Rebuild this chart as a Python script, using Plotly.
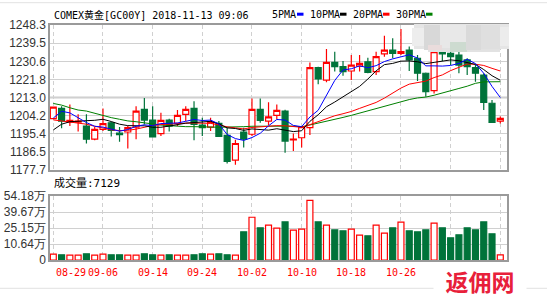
import plotly.graph_objects as go

# ---------------- data ----------------
dates = ['08-29', '08-30', '08-31', '09-03', '09-04', '09-05', '09-06', '09-07', '09-10', '09-11',
         '09-12', '09-13', '09-14', '09-17', '09-18', '09-19', '09-20', '09-21', '09-24', '09-25',
         '09-26', '09-27', '09-28', '10-01', '10-02', '10-03', '10-04', '10-05', '10-08', '10-09',
         '10-10', '10-11', '10-12', '10-15', '10-16', '10-17', '10-18', '10-19', '10-22', '10-23',
         '10-24', '10-25', '10-26', '10-29', '10-30', '10-31', '11-01', '11-02', '11-05', '11-06',
         '11-07', '11-08', '11-09', '11-12', '11-13']

opens = [1202.7, 1207.7, 1201.1, 1201.0, 1199.1, 1192.7, 1197.5, 1200.7, 1195.7, 1196.2,
         1198.6, 1207.2, 1202.0, 1195.4, 1202.0, 1200.4, 1204.8, 1207.7, 1199.6, 1198.6,
         1200.4, 1194.6, 1182.5, 1196.2, 1195.1, 1207.2, 1201.5, 1204.3, 1206.4, 1192.3,
         1193.4, 1198.3, 1227.5, 1221.5, 1230.1, 1228.0, 1225.9, 1228.3, 1230.4, 1225.6,
         1234.2, 1236.1, 1234.5, 1236.1, 1232.1, 1224.8, 1216.3, 1235.3, 1234.5, 1233.7,
         1231.3, 1227.5, 1223.9, 1210.2, 1201.5]
highs = [1208.6, 1208.8, 1209.6, 1204.8, 1204.8, 1198.6, 1207.7, 1201.2, 1198.6, 1199.1,
         1208.8, 1212.8, 1208.8, 1205.6, 1202.7, 1206.9, 1208.8, 1211.2, 1203.2, 1203.2,
         1201.5, 1198.3, 1192.4, 1198.3, 1212.5, 1212.5, 1210.7, 1209.6, 1207.0, 1195.5,
         1198.8, 1230.1, 1228.0, 1236.6, 1235.3, 1230.8, 1233.7, 1233.7, 1232.4, 1235.3,
         1243.1, 1241.8, 1246.4, 1237.8, 1233.7, 1225.2, 1236.1, 1241.8, 1236.9, 1236.1,
         1232.1, 1228.8, 1224.8, 1211.8, 1203.7]
lows = [1202.4, 1198.0, 1199.1, 1196.4, 1190.6, 1192.2, 1196.7, 1194.0, 1191.5, 1188.2,
        1192.7, 1199.9, 1193.5, 1194.3, 1196.4, 1199.1, 1201.5, 1192.2, 1194.3, 1196.7,
        1193.8, 1180.9, 1180.3, 1188.6, 1194.3, 1200.7, 1199.6, 1202.4, 1186.1, 1186.9,
        1188.7, 1194.7, 1219.4, 1220.4, 1225.6, 1223.6, 1221.5, 1225.6, 1224.8, 1223.9,
        1232.9, 1232.1, 1233.7, 1225.9, 1221.0, 1213.4, 1215.0, 1230.8, 1228.8, 1224.8,
        1223.9, 1220.7, 1206.9, 1200.9, 1200.4]
closes = [1208.3, 1201.5, 1201.9, 1201.5, 1192.7, 1197.5, 1200.3, 1197.0, 1194.9, 1198.3,
          1206.4, 1202.0, 1193.8, 1201.9, 1199.1, 1204.3, 1207.2, 1199.9, 1198.3, 1201.1,
          1194.0, 1181.9, 1190.6, 1192.7, 1207.2, 1201.9, 1203.6, 1206.7, 1191.8, 1192.8,
          1198.8, 1227.5, 1222.0, 1230.1, 1228.0, 1225.6, 1228.8, 1229.6, 1225.2, 1232.9,
          1236.1, 1234.5, 1235.3, 1231.3, 1224.8, 1215.8, 1235.3, 1234.2, 1232.9, 1228.8,
          1228.0, 1224.8, 1210.6, 1200.9, 1202.8]

# volume in 万 (10k contracts)
volumes = [1.5, 0.9, 0.6, 0.6, 1.8, 0.6, 1.5, 0.9, 0.9, 0.6,
           0.6, 1.8, 0.9, 0.6, 0.9, 0.6, 0.6, 0.9, 1.8, 1.5,
           1.8, 0.9, 0.6, 21.7, 34.9, 25.3, 27.7, 25.0, 30.7, 23.2,
           24.1, 50.3, 30.7, 27.7, 23.5, 22.6, 24.1, 18.7, 18.1, 27.7,
           20.5, 25.3, 30.4, 22.6, 21.7, 23.5, 29.5, 25.3, 16.3, 19.0,
           25.3, 23.5, 30.7, 19.9, 0.71]

ma5 = [1203.0, 1206.3, 1205.5, 1203.0, 1200.8, 1199.0, 1198.6, 1197.6, 1196.6, 1197.4,
       1199.0, 1199.7, 1199.3, 1200.3, 1200.5, 1200.6, 1201.4, 1202.3, 1201.8, 1202.0,
       1200.1, 1195.0, 1193.0, 1192.1, 1193.5, 1195.6, 1199.2, 1202.3, 1202.0, 1199.4,
       1198.8, 1203.5, 1206.8, 1214.2, 1221.3, 1226.4, 1227.0, 1228.4, 1227.5, 1228.5,
       1230.5, 1231.8, 1232.9, 1233.8, 1232.2, 1228.4, 1228.4, 1228.3, 1228.6, 1229.6,
       1231.6, 1229.5, 1224.8, 1218.4, 1213.0]
ma10 = [1197.2, 1200.0, 1201.2, 1201.6, 1201.7, 1201.9, 1202.4, 1201.3, 1200.0, 1199.3,
        1199.2, 1199.2, 1198.5, 1198.5, 1199.1, 1199.8, 1200.5, 1200.8, 1201.1, 1201.4,
        1200.2, 1198.2, 1197.9, 1197.0, 1197.7, 1197.5, 1197.1, 1197.8, 1197.2, 1196.4,
        1196.8, 1201.4, 1204.6, 1208.5, 1210.8, 1213.2, 1215.8, 1218.4, 1222.0, 1226.0,
        1229.0, 1229.6, 1230.7, 1230.8, 1230.4, 1229.5, 1230.1, 1230.6, 1231.3, 1230.9,
        1230.1, 1229.1, 1226.6, 1223.6, 1221.4]
ma20 = [1202.1, 1201.6, 1201.2, 1200.8, 1200.0, 1199.0, 1198.0, 1197.3, 1196.9, 1197.0,
        1197.6, 1198.6, 1199.4, 1199.8, 1200.1, 1200.3, 1200.5, 1200.6, 1200.5, 1200.4,
        1199.7, 1198.7, 1198.2, 1197.7, 1198.4, 1198.7, 1198.8, 1199.3, 1199.2, 1198.9,
        1198.5, 1199.8, 1201.2, 1202.6, 1204.1, 1205.1, 1206.2, 1207.7, 1209.0, 1210.6,
        1212.7, 1215.3, 1217.6, 1219.5, 1220.4, 1221.0, 1222.7, 1224.0, 1226.1, 1227.9,
        1229.3, 1229.2, 1228.6, 1227.2, 1225.9]
ma30 = [1210.1, 1209.3, 1208.0, 1206.9, 1206.4, 1205.3, 1204.1, 1203.2, 1202.4, 1201.6,
        1201.2, 1200.7, 1199.9, 1199.6, 1199.3, 1199.0, 1198.8, 1198.8, 1198.6, 1198.6,
        1198.5, 1198.6, 1198.6, 1198.8, 1199.0, 1199.0, 1199.2, 1199.3, 1199.2, 1199.05,
        1198.7, 1199.6, 1200.3, 1201.2, 1202.4, 1203.3, 1204.3, 1205.4, 1206.4, 1207.5,
        1208.5, 1209.6, 1211.0, 1212.0, 1212.8, 1213.2, 1214.1, 1215.3, 1216.4, 1217.4,
        1218.5, 1219.9, 1220.6, 1220.8, 1220.7]

price_ticks = [1177.7, 1186.5, 1195.4, 1204.2, 1213.0, 1221.8, 1230.6, 1239.5, 1248.3]
price_tick_text = ['1177.7', '1186.5', '1195.4', '1204.2', '1213.0', '1221.8', '1230.6', '1239.5', '1248.3']
vol_floor = -3.87          # bottom of volume panel (labelled "0")
vol_ticks = [vol_floor, 10.64, 25.15, 39.67, 54.18]
vol_tick_text = ['0', '10.64万', '25.15万', '39.67万', '54.18万']
date_ticks = ['08-29', '09-06', '09-14', '09-24', '10-02', '10-10', '10-18', '10-26', '11-05', '11-13']

title_text = 'COMEX黄金[GC00Y] 2018-11-13 09:06'
volume_label = '成交量:7129'
ma_names = ['5PMA', '10PMA', '20PMA', '30PMA']
watermark = '返佣网'

# ---------------- styles / geometry ----------------
RED = '#ff0000'
GREEN = '#00733a'
MA_COLORS = ['#0000ff', '#000000', '#ff0000', '#008000']
BORDER = '#9a9a9a'
GRID = '#d0d0d0'
MONO = 'DejaVu Sans Mono, Noto Sans CJK SC, monospace'
SANS = 'Liberation Sans, Arial, sans-serif'

W, H = 547, 302
ML, MR, MT, MB = 50, 40, 25, 42
PW, PH = W - ML - MR, H - MT - MB


def px(x):
    return (x - ML) / PW


def py(y):
    return (H - MB - y) / PH


fig = go.Figure()

fig.add_trace(go.Candlestick(
    x=dates, open=opens, high=highs, low=lows, close=closes,
    increasing=dict(line=dict(color=RED, width=1.2), fillcolor='white'),
    decreasing=dict(line=dict(color=GREEN, width=1.2), fillcolor=GREEN),
    whiskerwidth=0, xaxis='x', yaxis='y', hoverinfo='skip', showlegend=False))

for vals, col in zip([ma30, ma20, ma10, ma5], MA_COLORS[::-1]):
    fig.add_trace(go.Scatter(x=dates, y=vals, mode='lines', line=dict(color=col, width=1),
                             xaxis='x', yaxis='y', hoverinfo='skip', showlegend=False))

up = [c >= o for o, c in zip(opens, closes)]
fig.add_trace(go.Bar(
    x=dates, y=[v - vol_floor for v in volumes], base=vol_floor, width=0.72,
    marker=dict(color=['white' if u else GREEN for u in up],
                line=dict(color=[RED if u else GREEN for u in up], width=1.2)),
    xaxis='x2', yaxis='y2', hoverinfo='skip', showlegend=False))

xcommon = dict(type='category', range=[-0.4, len(dates) - 1 + 0.81], tickmode='array',
               tickvals=date_ticks, showticklabels=False, ticks='', automargin=False,
               showgrid=True, gridcolor=GRID, griddash='4px,3px', gridwidth=1,
               showline=True, mirror=True, linecolor=BORDER, linewidth=1.5, zeroline=False)

ycommon = dict(tickmode='array', showgrid=True, gridcolor=GRID, gridwidth=1, zeroline=False,
               ticks='', automargin=False, showline=True, mirror=True, linecolor=BORDER,
               linewidth=1.5, tickfont=dict(family=SANS, size=12, color='#333333'))

fig.update_layout(
    template='none',
    width=W, height=H, margin=dict(l=ML, r=MR, t=MT, b=MB, autoexpand=False),
    paper_bgcolor='white', plot_bgcolor='white',
    font=dict(family=SANS, size=12, color='#333333'),
    boxgap=0.28, boxgroupgap=0, barmode='overlay',
    xaxis=dict(xcommon, domain=[0, 1], anchor='y', rangeslider=dict(visible=False)),
    xaxis2=dict(xcommon, domain=[0, 1], anchor='y2', matches='x'),
    yaxis=dict(ycommon, domain=[py(170), 1],
               range=[price_ticks[0] - 0.001, price_ticks[-1] + 0.001],
               tickvals=price_ticks, ticktext=price_tick_text),
    yaxis2=dict(ycommon, domain=[0, py(196)],
                range=[vol_ticks[0] - 0.001, vol_ticks[-1] + 0.001],
                tickvals=vol_ticks, ticktext=vol_tick_text),
    showlegend=False,
)

shapes = []
# darker middle line of the price panel
shapes.append(dict(type='line', xref='x domain', yref='y', x0=0, x1=1,
                   y0=price_ticks[4], y1=price_ticks[4], line=dict(color='#999999', width=1.5),
                   layer='below'))
# page separator lines
for yy in (2.7, 288.3):
    shapes.append(dict(type='line', xref='paper', yref='paper', x0=px(0), x1=px(W),
                       y0=py(yy), y1=py(yy), line=dict(color='#e2e2e2', width=1)))
# legend colour swatches
for xs, col in zip([297, 340, 383, 426], MA_COLORS):
    shapes.append(dict(type='rect', xref='paper', yref='paper', x0=px(xs), x1=px(xs + 6.5),
                       y0=py(15.7), y1=py(12.7), fillcolor=col, line=dict(width=0)))
# blurred (pixelated) patch at upper right
blur = [
    (414, 24, 509, 49, '#e5e5e5'),
    (428, 46, 500, 52, '#e2e2e2'),
    (412, 28, 424, 46, '#ededed'),
    (424, 25, 440, 50, '#d8d8d8'),
    (440, 25, 466, 48, '#e8e8e8'),
    (450, 42, 467, 52, '#cddbd0'),
    (428, 45, 442, 50, '#eadcdc'),
    (466, 25, 481, 50, '#dadada'),
    (481, 25, 500, 49, '#dfdfdf'),
    (500, 27, 509, 46, '#ececec'),
]
for x0, y0, x1, y1, col in blur:
    shapes.append(dict(type='rect', xref='paper', yref='paper', x0=px(x0), x1=px(x1),
                       y0=py(y1), y1=py(y0), fillcolor=col, line=dict(width=0), layer='above'))
fig.update_layout(shapes=shapes)

ann = []
ann.append(dict(text=title_text, xref='paper', yref='paper', x=px(52), y=py(14.5),
                xanchor='left', yanchor='middle', showarrow=False,
                font=dict(family=MONO, size=10, color='#000000')))
for xs, name in zip([270, 308, 351, 394], ma_names):
    ann.append(dict(text=name, xref='paper', yref='paper', x=px(xs), y=py(14.5),
                    xanchor='left', yanchor='middle', showarrow=False,
                    font=dict(family=MONO, size=10, color='#000000')))
ann.append(dict(text=volume_label, xref='paper', yref='paper', x=px(52), y=py(182.5),
                xanchor='left', yanchor='middle', showarrow=False,
                font=dict(family=MONO, size=11, color='#000000')))
for k, d in enumerate(date_ticks):
    if d in ('11-05', '11-13'):
        continue  # hidden under the watermark in the reference
    ann.append(dict(text=d, xref='x2', yref='paper', x=d, y=py(272),
                    xanchor='left' if k == 0 else 'center', xshift=1 if k == 0 else 0,
                    yanchor='middle', showarrow=False,
                    font=dict(family=MONO, size=10, color=RED)))
ann.append(dict(text='<b>' + watermark + '</b>', xref='paper', yref='paper', x=px(480), y=py(281),
                xanchor='center', yanchor='middle', showarrow=False, width=90, height=34,
                bgcolor='white', borderpad=1,
                font=dict(family='Noto Sans CJK SC', size=23, color='#e8203a')))
fig.update_layout(annotations=ann)

fig.write_html('out.html')
